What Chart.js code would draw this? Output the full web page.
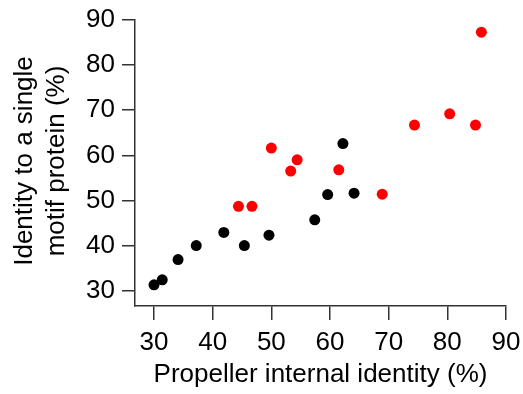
<!DOCTYPE html>
<html>
<head>
<meta charset="utf-8">
<script src="https://cdn.jsdelivr.net/npm/chart.js@4.4.0/dist/chart.umd.min.js"></script>
<style>
  body { margin: 0; background: #fff; }
  #wrap { width: 523px; height: 394px; }
</style>
</head>
<body>
<div id="wrap"><canvas id="myChart" width="523" height="394"></canvas></div>
<script>
// values
const blackX = [30.0, 31.4, 34.1, 37.2, 41.9, 45.4, 49.6, 57.4, 59.6, 62.2, 64.1];
const blackY = [31.3, 32.4, 36.9, 40.0, 42.9, 40.0, 42.3, 45.7, 51.3, 62.6, 51.6];
const redX = [44.4, 46.7, 50.0, 53.3, 54.4, 61.5, 68.9, 74.4, 80.4, 84.8, 85.8];
const redY = [48.7, 48.7, 61.6, 56.5, 59.0, 56.8, 51.4, 66.7, 69.2, 66.7, 87.3];
const xTicks = [30, 40, 50, 60, 70, 80, 90];
const yTicks = [30, 40, 50, 60, 70, 80, 90];
const xTitle = 'Propeller internal identity (%)';
const yTitle = ['Identity to a single', 'motif protein (%)'];

const family = '"Liberation Sans", Arial, Helvetica, sans-serif';
const axisColor = '#333';

function toPoints(xs, ys) {
    return xs.map((x, i) => ({ x: x, y: ys[i] }));
}

// two-line y title drawn by hand so the line gap matches
const yTitlePlugin = {
    id: 'yTitle',
    afterDraw(chart) {
        const ctx = chart.ctx;
        ctx.save();
        ctx.translate(25, 161);
        ctx.rotate(-Math.PI / 2);
        ctx.font = '26px ' + family;
        ctx.fillStyle = '#000';
        ctx.textAlign = 'center';
        ctx.textBaseline = 'middle';
        yTitle.forEach((line, i) => ctx.fillText(line, 0, i * 32));
        ctx.restore();
    }
};

new Chart('myChart', {
    type: 'scatter',
    data: {
        datasets: [
            {
                data: toPoints(blackX, blackY),
                backgroundColor: '#000',
                borderWidth: 0,
                pointRadius: 5.5
            },
            {
                data: toPoints(redX, redY),
                backgroundColor: '#ff0000',
                borderWidth: 0,
                pointRadius: 5.5
            }
        ]
    },
    options: {
        responsive: false,
        animation: false,
        devicePixelRatio: 1,
        layout: { padding: { top: 20, right: 17, left: 0, bottom: 0 } },
        plugins: {
            legend: { display: false },
            tooltip: { enabled: false }
        },
        scales: {
            x: {
                type: 'linear',
                min: 26.76,
                max: 90,
                afterBuildTicks: s => { s.ticks = xTicks.map(v => ({ value: v })); },
                afterFit: s => {
                    s.height = 88;
                    // labels overhang less than the layout padding, no need to shrink
                    s.paddingLeft = 0;
                    s.paddingRight = 0;
                },
                grid: { drawOnChartArea: false, drawTicks: true, tickLength: 14, color: axisColor, lineWidth: 1.5 },
                border: { display: true, color: axisColor, width: 1.5 },
                ticks: { color: '#000', font: { size: 26, family: family }, padding: 7, maxRotation: 0 },
                title: { display: true, text: xTitle, color: '#000', font: { size: 26, family: family }, padding: { top: 0, bottom: 4 } }
            },
            y: {
                type: 'linear',
                min: 26.6,
                max: 90,
                afterBuildTicks: s => { s.ticks = yTicks.map(v => ({ value: v })); },
                afterFit: s => {
                    s.width = 135;
                    s.paddingTop = 0;
                    s.paddingBottom = 0;
                },
                grid: { drawOnChartArea: false, drawTicks: true, tickLength: 13, color: axisColor, lineWidth: 1.5 },
                border: { display: true, color: axisColor, width: 1.5 },
                ticks: { color: '#000', font: { size: 26, family: family }, padding: 7 }
            }
        }
    },
    plugins: [yTitlePlugin]
});
</script>
</body>
</html>
